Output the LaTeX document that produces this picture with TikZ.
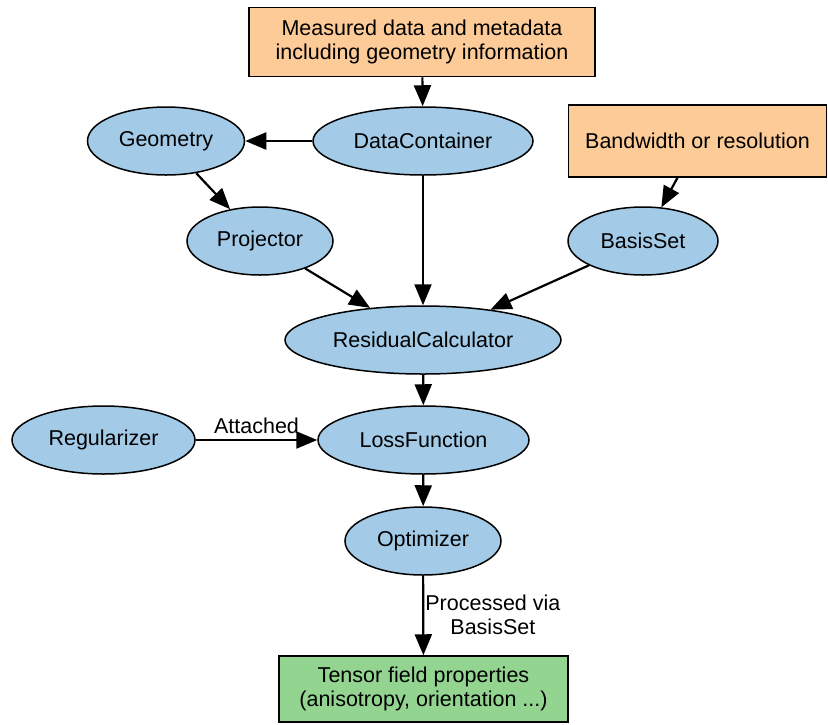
\documentclass[tikz,border=0pt]{standalone}
\usepackage{fontspec}
\setmainfont{Liberation Sans}
\usetikzlibrary{arrows.meta,shapes.geometric}
\definecolor{boxorange}{HTML}{FDCB98}
\definecolor{ellblue}{HTML}{A3CBE8}
\definecolor{boxgreen}{HTML}{92D490}
\begin{document}
\begin{tikzpicture}[x=1pt,y=-1pt,
  every node/.style={font=\fontsize{21.5}{24}\selectfont},
  ell/.style={ellipse,draw,line width=1.5pt,fill=ellblue,inner sep=0pt,minimum height=68pt},
  rbox/.style={rectangle,draw,line width=1.5pt,inner sep=0pt,align=center},
  arr/.style={line width=2.2pt,-{Triangle[length=21pt,width=17pt]}},
  lbl/.style={fill=none,draw=none,align=center,inner sep=2pt}]
\useasboundingbox (0,0) rectangle (828,724);
\node[rbox,fill=boxorange,minimum width=346pt,minimum height=69pt] (meas) at (422,42) {Measured data and metadata\\including geometry information};
\node[ell,minimum width=157pt] (geo) at (166,141) {Geometry};
\node[ell,minimum width=220pt] (dc) at (423,141) {DataContainer};
\node[rbox,fill=boxorange,minimum width=258pt,minimum height=72pt] (bw) at (697.5,141) {Bandwidth or resolution};
\node[ell,minimum width=146pt] (proj) at (260,241) {Projector};
\node[ell,minimum width=150pt] (bs) at (643,241) {BasisSet};
\node[ell,minimum width=276pt] (res) at (423,340) {ResidualCalculator};
\node[ell,minimum width=183pt] (reg) at (103.5,440) {Regularizer};
\node[ell,minimum width=211pt] (loss) at (423.5,440) {LossFunction};
\node[ell,minimum width=156pt] (opt) at (423,541) {Optimizer};
\node[rbox,fill=boxgreen,minimum width=289pt,minimum height=66pt] (tens) at (423.5,689) {Tensor field properties\\(anisotropy, orientation ...)};
\draw[arr] (meas) -- (dc);
\draw[arr] (dc) -- (geo);
\draw[arr] (geo) -- (proj);
\draw[arr] (dc) -- (res);
\draw[arr] (proj) -- (res);
\draw[arr] (bw) -- (bs);
\draw[arr] (bs) -- (res);
\draw[arr] (res) -- (loss);
\draw[arr] (reg) -- node[lbl,above,yshift=3pt] {Attached} (loss);
\draw[arr] (loss) -- (opt);
\draw[arr] (opt) -- node[lbl,right,inner sep=1pt,yshift=1pt] {Processed via\\BasisSet} (tens);
\end{tikzpicture}
\end{document}
